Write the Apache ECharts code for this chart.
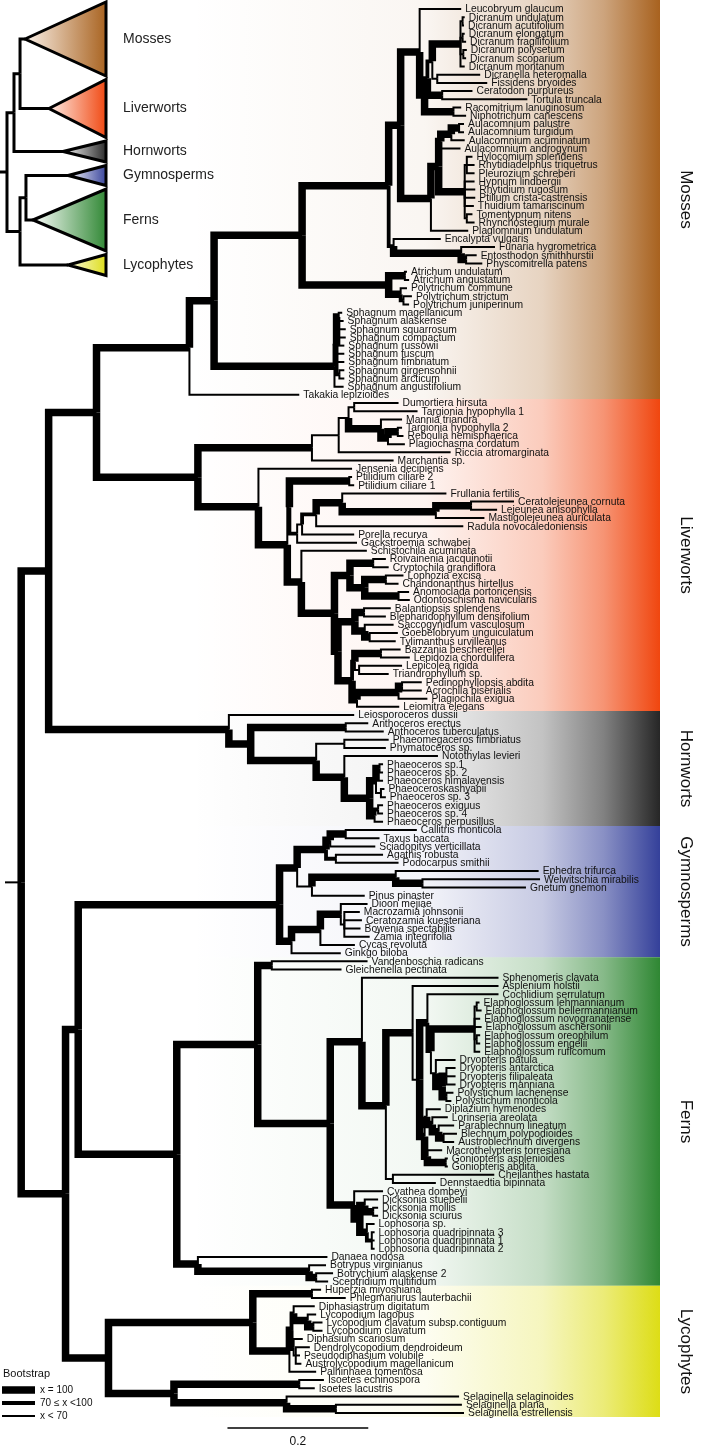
<!DOCTYPE html>
<html><head><meta charset="utf-8"><title>Land plant phylogeny</title>
<script src="https://cdn.jsdelivr.net/npm/echarts@6/dist/echarts.min.js"></script>
<style>html,body{margin:0;padding:0;background:#fff;}#chart{width:709px;height:1449px;}</style>
</head><body><div id="chart"></div>
<script>
// ---------------- DATA ----------------
// internal nodes: [id, parent, depth from root stub (subst./site), bootstrap class 3:=100, 2:70-99, 1:<70]
const backboneNodes = [
  ['Root', null, 0.023, 1],
  ['B0', 'Root', 0.062, 3],
  ['ML', 'B0', 0.130, 3],
  ['Tr', 'Root', 0.086, 3],
  ['GF', 'Tr', 0.104, 3]
];
const mossesNodes = [
  ['T','ML',0.262,3],['S','T',0.297,3],['A','S',0.422,3],['B','A',0.545,3],['C','B',0.562,3],
  ['D1','C',0.589,3],['D2','D1',0.596,3],['D3','D2',0.600,2],['D4','D3',0.607,2],
  ['Dic','D4',0.647,3],['Dic1','Dic',0.650,1],['Dic2','Dic',0.650,1],['Dic3','Dic',0.651,1],
  ['DF','D4',0.614,1],['CT','D3',0.621,3],['RN','D2',0.637,3],
  ['Bry','C',0.605,3],['Br2','Bry',0.616,3],['Aul','Br2',0.619,3],['Aul3','Aul',0.634,3],['AulPT','Aul3',0.645,3],
  ['Hyp','Br2',0.653,3],['Hyp1','Hyp',0.656,1],['Hyp2','Hyp',0.656,1],
  ['EF','B',0.552,2],['Fun','EF',0.648,3],['FunEP','Fun',0.655,3],
  ['Pol','A',0.545,3],['Atr','Pol',0.568,3],['Plt','Pol',0.562,3],['PltSJ','Plt',0.566,2],
  ['Sph','S',0.468,3],['SphA','Sph',0.471,2],['SphMA','SphA',0.474,3],['SphGA','SphA',0.475,2]
];
const mossesLeaves = [
  ['Leucobryum glaucum','D1',0.648],['Dicranum undulatum','Dic1',0.653],['Dicranum acutifolium','Dic1',0.652],
  ['Dicranum elongatum','Dic2',0.653],['Dicranum fragilifolium','Dic2',0.655],['Dicranum polysetum','Dic3',0.656],
  ['Dicranum scoparium','Dic3',0.655],['Dicranum montanum','Dic',0.653],['Dicranella heteromalla','DF',0.675],
  ['Fissidens bryoides','DF',0.685],['Ceratodon purpureus','CT',0.664],['Tortula truncala','CT',0.742],
  ['Racomitrium lanuginosum','RN',0.648],['Niphotrichum canescens','RN',0.655],
  ['Aulacomnium palustre','AulPT',0.652],['Aulacomnium turgidum','AulPT',0.652],['Aulacomnium acuminatum','Aul3',0.653],
  ['Aulacomnium androgynum','Aul',0.647],['Hylocomium splendens','Hyp1',0.664],['Rhytidiadelphus triquetrus','Hyp1',0.667],
  ['Pleurozium schreberi','Hyp1',0.667],['Hypnum lindbergii','Hyp',0.667],['Rhytidium rugosum','Hyp',0.668],
  ['Ptilium crista-castrensis','Hyp',0.668],['Thuidium tamariscinum','Hyp',0.666],['Tomentypnum nitens','Hyp2',0.664],
  ['Rhynchostegium murale','Hyp2',0.667],['Plagiomnium undulatum','Bry',0.658],['Encalypta vulgaris','EF',0.619],
  ['Funaria hygrometrica','Fun',0.696],['Entosthodon smithhurstii','FunEP',0.670],['Physcomitrella patens','FunEP',0.678],
  ['Atrichum undulatum','Atr',0.571],['Atrichum angustatum','Atr',0.574],['Polytrichum commune','Plt',0.571],
  ['Polytrichum strictum','PltSJ',0.578],['Polytrichum juniperinum','PltSJ',0.574],
  ['Sphagnum magellanicum','SphMA',0.479],['Sphagnum alaskense','SphMA',0.481],['Sphagnum squarrosum','SphA',0.484],
  ['Sphagnum compactum','SphA',0.484],['Sphagnum russowii','SphA',0.482],['Sphagnum fuscum','SphA',0.482],
  ['Sphagnum fimbriatum','SphA',0.482],['Sphagnum girgensohnii','SphGA',0.482],['Sphagnum arcticum','SphGA',0.482],
  ['Sphagnum angustifolium','Sph',0.481],['Takakia lepizioides','T',0.418]
];
const liverwortsNodes = [
  ['L','ML',0.274,3],['Ma','L',0.436,3],['Ric','Ma',0.474,1],['Dum','Ric',0.488,1],['DT','Dum',0.496,1],
  ['MT','Dum',0.534,3],['TRP','MT',0.544,3],['TR','TRP',0.558,3],
  ['J','L',0.360,3],['J2','J',0.401,3],['PP','J2',0.404,1],['Pti','PP',0.489,3],['Pc','PP',0.415,2],
  ['Pb','Pc',0.422,1],['Pa','Pb',0.442,2],['FL','Pa',0.479,3],['Lej','FL',0.612,3],['CL','Lej',0.662,3],
  ['J4','J2',0.421,3],['J4b','J4',0.468,3],['J6','J4b',0.490,3],['RC','J6',0.523,3],['LCAO','J6',0.511,3],
  ['LC','LCAO',0.541,3],['AO','LCAO',0.559,3],['J5','J4b',0.473,3],['BT','J5',0.497,3],['BB','BT',0.510,3],
  ['SGT','BT',0.511,3],['GT','SGT',0.518,3],['Low','J5',0.493,3],['BLT','Low',0.497,2],['BL','BLT',0.534,3],
  ['LT','BLT',0.503,1],['PAPL','Low',0.500,3],['PAP','PAPL',0.559,3],['PA','PAP',0.564,3]
];
const liverwortsLeaves = [
  ['Dumortiera hirsuta','DT',0.559],['Targionia hypophylla 1','DT',0.586],['Mannia triandra','MT',0.564],
  ['Targionia hypophylla 2','TR',0.564],['Reboulia hemisphaerica','TR',0.566],['Plagiochasma cordatum','TRP',0.568],
  ['Riccia atromarginata','Ric',0.633],['Marchantia sp.','Ma',0.552],['Jensenia decipiens','J',0.493],
  ['Ptilidium ciliare 2','Pti',0.493],['Ptilidium ciliare 1','Pti',0.496],['Frullania fertilis','FL',0.627],
  ['Ceratolejeunea cornuta','CL',0.723],['Lejeunea anisophylla','CL',0.699],['Mastigolejeunea auriculata','Lej',0.681],
  ['Radula novocaledoniensis','Pa',0.651],['Porella recurva','Pb',0.496],['Gackstroemia schwabei','Pc',0.500],
  ['Schistochila acuminata','J4',0.514],['Roivainenia jacquinotii','RC',0.541],['Cryptochila grandiflora','RC',0.545],
  ['Lophozia excisa','LC',0.566],['Chandonanthus hirtellus','LC',0.559],['Anomoclada portoricensis','AO',0.574],
  ['Odontoschisma navicularis','AO',0.575],['Balantiopsis splendens','BB',0.548],['Blepharidophyllum densifolium','BB',0.541],
  ['Saccogynidium vasculosum','SGT',0.552],['Goebelobryum unguiculatum','GT',0.558],['Tylimanthus urvilleanus','GT',0.555],
  ['Bazzania bescherellei','BL',0.562],['Lepidozia chordulifera','BL',0.575],['Lepicolea rigida','LT',0.564],
  ['Triandrophyllum sp.','LT',0.545],['Pedinophyllopsis abdita','PA',0.592],['Acrochila biserialis','PA',0.592],
  ['Plagiochila exigua','PAP',0.600],['Leiomitra elegans','PAPL',0.560]
];
const hornwortsNodes = [
  ['H','B0',0.318,3],['H2','H',0.349,3],['Ant','H2',0.484,3],['H3','H2',0.442,3],['PhP','H3',0.482,1],
  ['H4','H3',0.482,3],['Pha','H4',0.518,3],['Pha1','Pha',0.527,3],['Pha12','Pha1',0.532,3],['PhaKS','Pha1',0.534,1],
  ['Pha2','Pha',0.525,3],['PhaES','Pha2',0.530,2]
];
const hornwortsLeaves = [
  ['Leiosporoceros dussii','H',0.496],['Anthoceros erectus','Ant',0.516],['Anthoceros tuberculatus','Ant',0.538],
  ['Phaeomegaceros fimbriatus','PhP',0.545],['Phymatoceros sp.','PhP',0.541],['Notothylas levieri','H4',0.615],
  ['Phaeoceros sp.1','Pha12',0.537],['Phaeoceros sp. 2','Pha12',0.537],['Phaeoceros himalayensis','Pha1',0.537],
  ['Phaeoceroskashyapii','PhaKS',0.539],['Phaeoceros sp. 3','PhaKS',0.541],['Phaeoceros exiguus','PhaES',0.537],
  ['Phaeoceros sp. 4','PhaES',0.537],['Phaeoceros perpusillus','Pha2',0.537]
];
const gymnospermsNodes = [
  ['G','GF',0.390,3],['CG','G',0.415,3],['Con','CG',0.456,3],['Cup','Con',0.462,3],['CT2','Cup',0.484,3],
  ['Ara','Con',0.470,2],['GP','CG',0.436,1],['Gne','GP',0.555,3],['WG','Gne',0.593,3],
  ['CyG','G',0.407,3],['Cyc','CyG',0.448,3],['Zam','Cyc',0.477,3],['ZamR','Zam',0.482,1]
];
const gymnospermsLeaves = [
  ['Callitris monticola','CT2',0.585],['Taxus baccata','CT2',0.532],['Sciadopitys verticillata','Cup',0.526],
  ['Agathis robusta','Ara',0.537],['Podocarpus smithii','Ara',0.559],['Ephedra trifurca','Gne',0.758],
  ['Welwitschia mirabilis','WG',0.760],['Gnetum gnemon','WG',0.740],['Pinus pinaster','GP',0.511],
  ['Dioon mejiae','Zam',0.515],['Macrozamia johnsonii','ZamR',0.504],['Ceratozamia kuesteriana','ZamR',0.507],
  ['Bowenia spectabilis','ZamR',0.505],['Zamia integrifolia','ZamR',0.518],['Cycas revoluta','Cyc',0.497],
  ['Ginkgo biloba','CyG',0.477]
];
const fernsNodes = [
  ['F0','GF',0.244,3],['F1','F0',0.359,3],['VG','F1',0.379,3],['F2','F1',0.462,3],['F3','F2',0.507,3],
  ['F4','F3',0.541,3],['F5','F4',0.579,3],['Y','F5',0.589,1],['X','Y',0.600,3],['ED','X',0.605,2],
  ['Ela','ED',0.667,3],['Ela1','Ela',0.670,1],['Ela2','Ela',0.670,1],['Dry','ED',0.612,1],['DryR','Dry',0.621,3],
  ['Dry3','DryR',0.627,3],['Pol2','DryR',0.627,3],['E2','Y',0.596,3],['DB','E2',0.599,1],['Ble','DB',0.607,3],
  ['BA','Ble',0.616,3],['BAu','BA',0.623,3],['The','E2',0.600,3],['Gon','The',0.626,3],['CD','F4',0.551,1],
  ['Cya','F2',0.496,3],['DL','Cya',0.504,3],['Dick','DL',0.511,3],['DMS','Dick',0.523,3],['Loph','DL',0.514,3],
  ['Loph2','Loph',0.521,2],['MO','F0',0.274,3],['Oph','MO',0.432,3],['BS','Oph',0.442,3]
];
const fernsLeaves = [
  ['Vandenboschia radicans','VG',0.515],['Gleichenella pectinata','VG',0.478],['Sphenomeris clavata','F3',0.701],
  ['Asplenium holstii','F5',0.701],['Cochlidium serrulatum','X',0.701],['Elaphoglossum lehmannianum','Ela1',0.674],
  ['Elaphoglossum bellermannianum','Ela1',0.677],['Elaphoglossum novogranatense','Ela',0.675],
  ['Elaphoglossum aschersonii','Ela',0.677],['Elaphoglossum oreophilum','Ela2',0.675],['Elaphoglossum engelii','Ela2',0.675],
  ['Elaphoglossum ruficomum','Ela',0.675],['Dryopteris patula','Dry',0.640],['Dryopteris antarctica','Dry3',0.640],
  ['Dryopteris filipaleata','Dry3',0.640],['Dryopteris manniana','Dry3',0.640],['Polystichum lachenense','Pol2',0.637],
  ['Polystichum monticola','Pol2',0.634],['Diplazium hymenodes','DB',0.619],['Lorinseria areolata','Ble',0.629],
  ['Parablechnum lineatum','BA',0.638],['Blechnum polypodioides','BAu',0.642],['Austroblechnum divergens','BAu',0.638],
  ['Macrothelypteris torresiana','The',0.621],['Goniopteris asplenioides','Gon',0.629],['Goniopteris abdita','Gon',0.629],
  ['Cheilanthes hastata','CD',0.695],['Dennstaedtia bipinnata','CD',0.612],['Cyathea dombeyi','Cya',0.537],
  ['Dicksonia stuebelii','Dick',0.530],['Dicksonia mollis','DMS',0.530],['Dicksonia sciurus','DMS',0.530],
  ['Lophosoria sp.','Loph',0.525],['Lophosoria quadripinnata 3','Loph2',0.525],['Lophosoria quadripinnata 1','Loph2',0.525],
  ['Lophosoria quadripinnata 2','Loph2',0.525],['Danaea nodosa','MO',0.458],['Botrypus virginianus','Oph',0.456],
  ['Botrychium alaskense 2','BS',0.466],['Sceptridium multifidum','BS',0.459]
];
const lycophytesNodes = [
  ['Lyc','Tr',0.147,3],['Lp','Lyc',0.352,3],['Hup','Lp',0.436,3],['LyA','Lp',0.404,3],['LyB','LyA',0.407,3],
  ['LyC','LyB',0.410,2],['Lyco','LyC',0.430,3],['LycoC','Lyco',0.438,3],['LyD','LyB',0.410,2],['LyE','LyD',0.413,1],
  ['IS','Lyc',0.240,3],['Iso','IS',0.418,3],['Sel','IS',0.400,3],['SelPE','Sel',0.470,3]
];
const lycophytesLeaves = [
  ['Huperzia miyoshiana','Hup',0.449],['Phlegmariurus lauterbachii','Hup',0.484],['Diphasiastrum digitatum','LyC',0.440],
  ['Lycopodium lagopus','Lyco',0.442],['Lycopodium clavatum subsp.contiguum','LycoC',0.451],['Lycopodium clavatum','LycoC',0.451],
  ['Diphasium scariosum','LyD',0.423],['Dendrolycopodium dendroideum','LyE',0.433],['Pseudodiphasium volubile','LyE',0.419],
  ['Austrolycopodium magellanicum','LyE',0.421],['Palhinhaea tomentosa','LyA',0.442],['Isoetes echinospora','Iso',0.453],
  ['Isoetes lacustris','Iso',0.440],['Selaginella selaginoides','Sel',0.645],['Selaginella plana','SelPE',0.649],
  ['Selaginella estrellensis','SelPE',0.652]
];
const cladeNames = ['Mosses','Liverworts','Hornworts','Gymnosperms','Ferns','Lycophytes'];
const cladeColors = ['#a8621f','#f0460f','#262626','#34409a','#2f8733','#dddd16'];
const cladeLightColors = ['#fbf2ea','#fff0ea','#ffffff','#ffffff','#ffffff','#fbfbe6'];
// summary tree inset: [clade, relative triangle height, apex depth, parent]
const insetClades = [
  ['Mosses',74,0.236,'iML'],['Liverworts',58,0.462,'iML'],['Hornworts',21,0.594,'iB'],
  ['Gymnosperms',20,0.642,'iGF'],['Ferns',62,0.311,'iGF'],['Lycophytes',21,0.642,'iT']
];
const insetNodes = [['iRoot',null,0.066],['iB','iRoot',0.132],['iML','iB',0.189],['iT','iRoot',0.189],['iGF','iT',0.245]];
const bootstrapLabels = ['x = 100','70 \u2264 x <100','x < 70'];
const scaleBarLength = 0.2;

// ---------------- LAYOUT ----------------
const FONT = '"Liberation Sans", Arial, Helvetica, sans-serif';
const WIDTHS = {0:2, 1:2, 2:3.8, 3:7.5};
const cladeLeafSets = [mossesLeaves, liverwortsLeaves, hornwortsLeaves, gymnospermsLeaves, fernsLeaves, lycophytesLeaves];
const internal = [].concat(backboneNodes, mossesNodes, liverwortsNodes, hornwortsNodes, gymnospermsNodes, fernsNodes, lycophytesNodes);
const leafRows = [].concat(...cladeLeafSets);
const nodes = {};
internal.forEach(r => nodes[r[0]] = {id:r[0], parent:r[1], depth:r[2], support:r[3], kids:[]});
const leaves = leafRows.map((r,i) => ({name:r[0], parent:r[1], depth:r[2], y:i, support:0}));
leaves.forEach(l => nodes[l.parent].kids.push(l));
internal.forEach(r => { if (r[1]) nodes[r[1]].kids.push(nodes[r[0]]); });
function yOf(n){ if (n.y !== undefined) return n.y; const ys = n.kids.map(yOf); n.y = (Math.min(...ys)+Math.max(...ys))/2; return n.y; }
const root = nodes['Root']; yOf(root);
const branches = [[0, root.y, root.depth, root.y, 1]];
(function collect(n){ n.kids.forEach(k => { branches.push([n.depth, n.y, k.depth, k.y, k.support]); if (k.kids) collect(k); }); })(root);
const nLeaves = leaves.length;
const cladeRanges = []; let acc = 0;
cladeLeafSets.forEach((s,i) => { cladeRanges.push([acc, acc + s.length - 1]); acc += s.length; });

// inset layout
const GAP = 3.5; let ia = 0;
const insetLeaf = insetClades.map(c => { const o = {name:c[0], top:ia, bottom:ia+c[1], y:ia+c[1]/2, depth:c[2], parent:c[3]}; ia += c[1] + GAP; return o; });
const insetTotal = ia - GAP;
const iNodes = {}; insetNodes.forEach(r => iNodes[r[0]] = {id:r[0], parent:r[1], depth:r[2], kids:[]});
insetLeaf.forEach(l => iNodes[l.parent].kids.push(l));
insetNodes.forEach(r => { if (r[1]) iNodes[r[1]].kids.push(iNodes[r[0]]); });
yOf(iNodes['iRoot']);
const iRoot = iNodes['iRoot'];
const insetBranches = [[0, iRoot.y, iRoot.depth, iRoot.y]];
(function collect(n){ n.kids.forEach(k => { insetBranches.push([n.depth, n.y, k.depth, k.y]); if (k.kids) collect(k); }); })(iRoot);

function rgba(hex, a){ const v = parseInt(hex.slice(1),16); return `rgba(${v>>16},${(v>>8)&255},${v&255},${a})`; }

const chart = echarts.init(document.getElementById('chart'), null, {renderer:'canvas', width:709, height:1449});
const LEAF_TOP = 9, LEAF_STEP = 8.21;
const option = {
  animation:false,
  backgroundColor:'#ffffff',
  grid:[
    {left:5, top:LEAF_TOP, width:730, height:(nLeaves-1)*LEAF_STEP},
    {left:0, top:2, width:106, height:insetTotal}
  ],
  xAxis:[
    {type:'value', min:0, max:1, show:false, gridIndex:0},
    {type:'value', min:0, max:1, show:false, gridIndex:1}
  ],
  yAxis:[
    {type:'value', min:0, max:nLeaves-1, inverse:true, show:false, gridIndex:0},
    {type:'value', min:0, max:insetTotal, inverse:true, show:false, gridIndex:1}
  ],
  series:[
    { // colour bands
      type:'custom', xAxisIndex:0, yAxisIndex:0, z:1, clip:false, silent:true,
      data: cladeRanges.map(r => [r[0], r[1]]),
      renderItem(params, api){
        const i = params.dataIndex; const c = cladeColors[i];
        const top = i === 0 ? 0 : api.coord([0, api.value(0) - 0.5])[1];
        const bot = api.coord([0, api.value(1) + 0.5])[1];
        return {type:'group', children:[
          {type:'rect', shape:{x:190, y:top, width:470, height:bot-top},
           style:{fill:new echarts.graphic.LinearGradient(0,0,1,0,[
             {offset:0,color:rgba(c,0)},{offset:0.5,color:rgba(c,0.06)},{offset:0.75,color:rgba(c,0.28)},
             {offset:0.88,color:rgba(c,0.58)},{offset:1,color:rgba(c,1)}])}},
          {type:'text', x:686, y:(top+bot)/2, rotation:-Math.PI/2,
           style:{text:cladeNames[i], fill:'#111', font:'17px '+FONT, align:'center', verticalAlign:'middle', textAlign:'center', textVerticalAlign:'middle'}}
        ]};
      }
    },
    { // branches
      type:'custom', xAxisIndex:0, yAxisIndex:0, z:3, clip:false, silent:true,
      data: branches,
      renderItem(params, api){
        const p0 = api.coord([api.value(0), api.value(1)]);
        const p1 = api.coord([api.value(0), api.value(3)]);
        const p2 = api.coord([api.value(2), api.value(3)]);
        return {type:'polyline', shape:{points:[p0,p1,p2]},
          style:{stroke:'#000', fill:null, lineWidth:WIDTHS[api.value(4)], lineJoin:'miter', lineCap:'butt'}};
      }
    },
    { // leaf labels
      type:'custom', xAxisIndex:0, yAxisIndex:0, z:4, clip:false, silent:true,
      data: leaves.map(l => [l.depth, l.y]),
      renderItem(params, api){
        const p = api.coord([api.value(0), api.value(1)]);
        return {type:'text', x:p[0]+4, y:p[1]+0.5,
          style:{text:leaves[params.dataIndex].name, fill:'#111', font:'10.3px '+FONT, align:'left', verticalAlign:'middle', textAlign:'left', textVerticalAlign:'middle'}};
      }
    },
    { // scale bar
      type:'custom', xAxisIndex:0, yAxisIndex:0, z:4, clip:false, silent:true,
      data:[[0.316, 0.316 + scaleBarLength]],
      renderItem(params, api){
        const a = api.coord([api.value(0), 0]); const b = api.coord([api.value(1), 0]);
        const y = 1428;
        return {type:'group', children:[
          {type:'line', shape:{x1:a[0], y1:y, x2:b[0], y2:y}, style:{stroke:'#000', lineWidth:1.5}},
          {type:'text', x:(a[0]+b[0])/2, y:y+14, style:{text:String(scaleBarLength), fill:'#111', font:'12px '+FONT, align:'center', verticalAlign:'middle', textAlign:'center', textVerticalAlign:'middle'}}
        ]};
      }
    },
    { // inset triangles
      type:'custom', xAxisIndex:1, yAxisIndex:1, z:5, clip:false, silent:true,
      data: insetLeaf.map(l => [l.depth, l.y, l.top, l.bottom]),
      renderItem(params, api){
        const i = params.dataIndex;
        const apex = api.coord([api.value(0), api.value(1)]);
        const t = api.coord([1, api.value(2)]); const b = api.coord([1, api.value(3)]);
        return {type:'group', children:[
          {type:'polygon', shape:{points:[apex,t,b]},
           style:{fill:new echarts.graphic.LinearGradient(0,0,1,0,[{offset:0,color:cladeLightColors[i]},{offset:1,color:cladeColors[i]}]),
                  stroke:'#000', lineWidth:3, lineJoin:'miter'}},
          {type:'text', x:123, y:apex[1], style:{text:insetLeaf[i].name, fill:'#222', font:'14px '+FONT, align:'left', verticalAlign:'middle', textAlign:'left', textVerticalAlign:'middle'}}
        ]};
      }
    },
    { // inset branches
      type:'custom', xAxisIndex:1, yAxisIndex:1, z:5, clip:false, silent:true,
      data: insetBranches,
      renderItem(params, api){
        const p0 = api.coord([api.value(0), api.value(1)]);
        const p1 = api.coord([api.value(0), api.value(3)]);
        const p2 = api.coord([api.value(2), api.value(3)]);
        return {type:'polyline', shape:{points:[p0,p1,p2]}, style:{stroke:'#000', fill:null, lineWidth:3, lineJoin:'miter', lineCap:'butt'}};
      }
    }
  ],
  graphic:[
    {type:'text', left:3, top:1368, style:{text:'Bootstrap', fill:'#111', font:'11px '+FONT}},
    ...bootstrapLabels.map((t,i) => ({type:'group', children:[
      {type:'line', shape:{x1:2, y1:1390+i*13, x2:35, y2:1390+i*13}, style:{stroke:'#000', lineWidth:[WIDTHS[3],WIDTHS[2],WIDTHS[1]][i]}},
      {type:'text', x:40, y:1390+i*13, style:{text:t, fill:'#111', font:'10px '+FONT, verticalAlign:'middle', textVerticalAlign:'middle'}}
    ]}))
  ]
};
chart.setOption(option);
</script></body></html>
